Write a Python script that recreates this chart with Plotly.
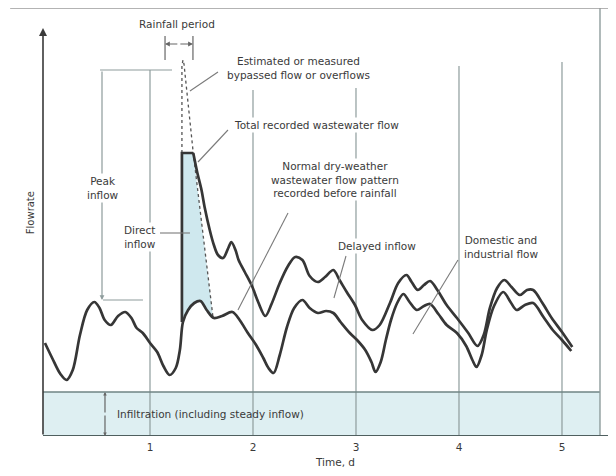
import plotly.graph_objects as go

# Temps (jours) et débit (unités arbitraires)
dry_t = [-0.02, 0.05, 0.13, 0.19, 0.25, 0.32, 0.39, 0.46, 0.51, 0.56, 0.62, 0.69,
         0.76, 0.82, 0.87, 0.93, 1.00, 1.07, 1.13, 1.19, 1.25, 1.29, 1.32, 1.37,
         1.43, 1.49, 1.55, 1.62, 1.70, 1.80, 1.87, 1.95, 2.03, 2.10, 2.15, 2.20,
         2.26, 2.33, 2.40, 2.48, 2.55, 2.63, 2.71, 2.78, 2.85, 2.94, 3.01, 3.09,
         3.15, 3.19, 3.24, 3.29, 3.34, 3.40, 3.46, 3.52, 3.59, 3.66, 3.72, 3.80,
         3.88, 3.98, 4.07, 4.13, 4.17, 4.22, 4.27, 4.34, 4.43, 4.50, 4.56, 4.64,
         4.72, 4.82, 4.91, 5.00, 5.09]
dry_q = [0.93, 0.78, 0.62, 0.56, 0.66, 1.01, 1.26, 1.34, 1.28, 1.16, 1.11, 1.20,
         1.24, 1.18, 1.08, 1.03, 0.93, 0.84, 0.70, 0.61, 0.68, 0.86, 1.14, 1.26,
         1.33, 1.35, 1.26, 1.18, 1.20, 1.24, 1.16, 1.03, 0.91, 0.78, 0.68, 0.63,
         0.81, 1.09, 1.28, 1.36, 1.28, 1.23, 1.25, 1.23, 1.14, 1.03, 0.96, 0.86,
         0.74, 0.64, 0.74, 0.96, 1.16, 1.33, 1.42, 1.34, 1.26, 1.30, 1.32, 1.22,
         1.11, 1.03, 0.90, 0.76, 0.69, 0.81, 1.06, 1.30, 1.44, 1.34, 1.26, 1.31,
         1.33, 1.19, 1.06, 0.96, 0.85]

total_t = [1.31, 1.31, 1.42, 1.46, 1.50, 1.53, 1.58, 1.62, 1.66, 1.71, 1.76, 1.79,
           1.83, 1.86, 1.92, 1.99, 2.05, 2.12, 2.18, 2.26, 2.34, 2.41, 2.48, 2.55,
           2.63, 2.70, 2.78, 2.84, 2.91, 2.99, 3.06, 3.16, 3.23, 3.33, 3.41, 3.49,
           3.54, 3.60, 3.66, 3.72, 3.79, 3.88, 3.98, 4.09, 4.18, 4.24, 4.30, 4.37,
           4.44, 4.51, 4.59, 4.66, 4.72, 4.81, 4.90, 5.00, 5.10]
total_q = [1.14, 2.83, 2.83, 2.63, 2.46, 2.29, 2.06, 1.91, 1.81, 1.78, 1.88, 1.94,
           1.86, 1.76, 1.64, 1.50, 1.34, 1.20, 1.32, 1.53, 1.70, 1.79, 1.76, 1.60,
           1.54, 1.59, 1.66, 1.56, 1.44, 1.31, 1.16, 1.06, 1.11, 1.33, 1.53, 1.61,
           1.54, 1.46, 1.51, 1.55, 1.46, 1.31, 1.18, 1.03, 0.90, 1.01, 1.28, 1.48,
           1.56, 1.49, 1.41, 1.46, 1.46, 1.33, 1.18, 1.04, 0.89]

# Débit estimé (déversé / by-pass) pendant la pluie
est_t = [1.31, 1.31, 1.32, 1.33, 1.42, 1.61]
est_q = [2.83, 3.70, 3.76, 3.72, 2.83, 1.20]

days = [1, 2, 3, 4, 5]
day_labels = ["1", "2", "3", "4", "5"]
infiltration_q = 0.44

INK = "#363636"
GRID = "#8e9c9c"
TXT = "#3a3a3a"
FILL = "#cfe8ee"
BAND = "#deeff2"
FONT = "DejaVu Sans"

X0, X1 = -0.0388, 5.369

fig = go.Figure()

# zone remplie : apport direct (entre le pic enregistré et la courbe estimée)
under = [(t, q) for t, q in zip(dry_t, dry_q) if 1.31 < t < 1.61][::-1]
poly_t = [est_t[0], est_t[4], est_t[5]] + [p[0] for p in under] + [total_t[0], est_t[0]]
poly_q = [est_q[0], est_q[4], est_q[5]] + [p[1] for p in under] + [total_q[0], est_q[0]]
fig.add_trace(go.Scatter(x=poly_t, y=poly_q, mode="lines", fill="toself",
                         fillcolor=FILL, line=dict(width=0), hoverinfo="skip"))

fig.add_trace(go.Scatter(x=est_t, y=est_q, mode="lines",
                         line=dict(color="#555555", width=1.3, dash="dot")))

fig.add_trace(go.Scatter(x=dry_t, y=dry_q, mode="lines",
                         line=dict(color=INK, width=2.7, shape="spline", smoothing=0.9)))

fig.add_trace(go.Scatter(x=total_t[:3], y=total_q[:3], mode="lines",
                         line=dict(color=INK, width=2.7)))
fig.add_trace(go.Scatter(x=total_t[2:], y=total_q[2:], mode="lines",
                         line=dict(color=INK, width=2.7, shape="spline", smoothing=0.9)))

shapes = []
# bande d'infiltration
shapes.append(dict(type="rect", xref="x", yref="y", x0=X0, x1=X1, y0=0, y1=infiltration_q,
                   fillcolor=BAND, line=dict(width=0), layer="below"))
shapes.append(dict(type="line", xref="x", yref="y", x0=X0, x1=X1,
                   y0=infiltration_q, y1=infiltration_q, line=dict(color="#6f8585", width=1.6)))
# lignes verticales des jours
grid_top = [3.66, 3.46, 3.48, 3.70, 3.74]
for d, top in zip(days, grid_top):
    shapes.append(dict(type="line", xref="x", yref="y", x0=d, x1=d, y0=0, y1=top,
                       line=dict(color=GRID, width=1.2), layer="below"))
# cadre
shapes.append(dict(type="line", xref="paper", yref="paper", x0=1, x1=1, y0=0, y1=1,
                   line=dict(color=GRID, width=1.4)))
shapes.append(dict(type="line", xref="paper", yref="paper", x0=-0.059, x1=1.03, y0=1, y1=1,
                   line=dict(color="#9a9a9a", width=1.4)))
shapes.append(dict(type="line", xref="paper", yref="y", x0=0, x1=1.03, y0=0, y1=0,
                   line=dict(color="#4f5f5f", width=1.8)))
# pic : accolade horizontale
shapes.append(dict(type="line", xref="x", yref="y", x0=0.515, x1=1.214, y0=3.66, y1=3.66,
                   line=dict(color=GRID, width=1.2)))
shapes.append(dict(type="line", xref="x", yref="y", x0=0.544, x1=0.932, y0=1.36, y1=1.36,
                   line=dict(color=GRID, width=1.2)))
# période de pluie
for tx in (1.146, 1.417):
    shapes.append(dict(type="line", xref="x", yref="y", x0=tx, x1=tx, y0=3.76, y1=4.00,
                       line=dict(color="#666666", width=1.2)))

# lignes de rappel
leaders = [
    (1.660, 3.64, 1.388, 3.45),
    (1.757, 3.06, 1.466, 2.74),
    (2.340, 2.23, 1.854, 1.26),
    (2.903, 1.80, 2.786, 1.38),
    (3.990, 1.76, 3.553, 1.02),
    (1.097, 2.03, 1.388, 2.03),
]
for x0, y0, x1, y1 in leaders:
    shapes.append(dict(type="line", xref="x", yref="y", x0=x0, x1=x1, y0=y0, y1=y1,
                       line=dict(color="#7a7a7a", width=1.1)))

annotations = []


def label(x, y, text, size=10.5):
    annotations.append(dict(x=x, y=y, xref="x", yref="y", text=text, showarrow=False,
                            font=dict(family=FONT, size=size, color=TXT),
                            bgcolor="white", borderpad=1, align="center"))


def arrow(x, y, ax, ay, width=1.2, head=2, color="#666666", size=0.8):
    annotations.append(dict(x=x, y=y, ax=ax, ay=ay, xref="x", yref="y", axref="x", ayref="y",
                            text="", showarrow=True, arrowhead=head, arrowsize=size,
                            arrowwidth=width, arrowcolor=color))


# axe vertical avec flèche
arrow(X0, 4.08, X0, 0, width=1.6, head=2, color="#3a3a3a", size=1)
# accolades
arrow(0.534, 1.36, 0.534, 3.66, color=GRID)
arrow(1.146, 3.92, 1.28, 3.92)
arrow(1.417, 3.92, 1.28, 3.92)
arrow(0.563, 0.0, 0.563, 0.22, color="#666666", size=0.6)
arrow(0.563, infiltration_q, 0.563, 0.22, color="#666666", size=0.6)

label(1.262, 4.12, "Rainfall period")
label(0.544, 2.48, "Peak<br>inflow")
label(0.903, 1.99, "Direct<br>inflow")
label(2.437, 3.68, "Estimated or measured<br>bypassed flow or overflows")
label(2.621, 3.11, "Total recorded wastewater flow")
label(2.796, 2.57, "Normal dry-weather<br>wastewater flow pattern<br>recorded before rainfall")
label(3.204, 1.90, "Delayed inflow")
label(4.408, 1.89, "Domestic and<br>industrial flow")
annotations.append(dict(x=1.592, y=0.22, xref="x", yref="y", showarrow=False,
                        text="Infiltration (including steady inflow)",
                        font=dict(family=FONT, size=10.5, color=TXT)))

annotations.append(dict(x=-0.023, y=0.521, xref="paper", yref="paper", text="Flowrate",
                        textangle=-90, showarrow=False, xanchor="center", yanchor="middle",
                        font=dict(family=FONT, size=10, color=TXT)))
annotations.append(dict(x=0.524, y=-0.06, xref="paper", yref="paper", text="Time, d",
                        showarrow=False, xanchor="center", yanchor="middle",
                        font=dict(family=FONT, size=10.5, color=TXT)))

# la page ajoute une marge de 8 px autour du graphique
fig.update_layout(
    width=608, height=468,
    margin=dict(l=35, r=16, t=0, b=40),
    paper_bgcolor="white", plot_bgcolor="white",
    showlegend=False,
    shapes=shapes, annotations=annotations,
    xaxis=dict(range=[X0, X1], showgrid=False, zeroline=False, showline=False,
               tickvals=days, ticktext=day_labels, ticks="", ticklabelstandoff=3,
               tickfont=dict(family=FONT, size=10.5, color=TXT)),
    yaxis=dict(range=[0, 4.28], visible=False),
)

fig.write_html("out.html")
